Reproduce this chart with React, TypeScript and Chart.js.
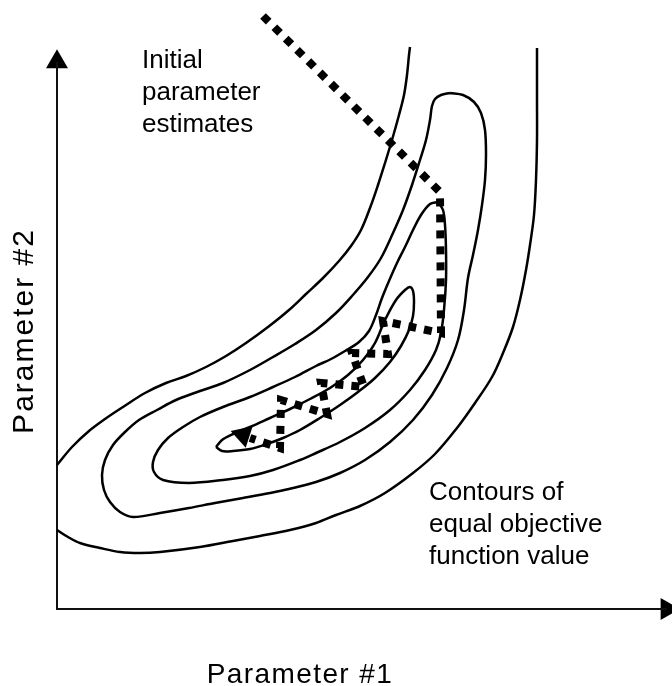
import { useEffect, useRef } from 'react';
import { Chart, registerables } from 'chart.js';

Chart.register(...registerables);

type Pair = [number, number];

// Parameter space: origin at the axes' crossing.
const xRange: Pair = [-5.7, 61.5];
const yRange: Pair = [-7.7, 60.9];

// Outermost contour (open band, two visible branches)
const outerUpper: Pair[] = [
  [35.3, 56.2], [35.2, 55.4], [35.0, 53.4], [34.7, 51.4], [34.2, 49.4], [33.5, 46.9],
  [32.8, 44.6], [32.1, 42.4], [31.3, 40.1], [30.4, 37.9], [29.4, 36.3], [28.2, 34.8],
  [26.6, 33.1], [24.9, 31.5], [23.2, 29.9], [21.1, 28.2], [18.9, 26.6], [16.9, 25.3],
  [14.9, 24.2], [12.9, 23.3], [10.9, 22.6], [8.8, 21.6], [6.6, 20.2], [4.8, 19.0],
  [3.2, 17.8], [1.5, 16.2], [0, 14.4],
];
const outerLower: Pair[] = [
  [0, 7.9], [1.1, 7.2], [2.3, 6.6], [4.3, 6.1], [6.3, 5.7], [8.3, 5.6], [10.3, 5.7],
  [14.3, 6.2], [17.6, 6.8], [20.3, 7.3], [23.3, 7.9], [25.9, 8.6], [27.9, 9.4],
  [30.3, 10.3], [32.8, 11.6], [35.6, 13.6], [37.8, 15.5], [40.0, 18.1], [41.8, 20.6],
  [43.5, 23.2], [44.6, 25.6], [45.6, 28.2], [46.3, 30.9], [46.9, 33.9], [47.3, 36.4],
  [47.7, 39.4], [47.9, 42.9], [48.0, 46.9], [48.0, 50.9], [48.0, 56.1],
];
// Second contour (closed)
const contour2: Pair[] = [
  [39.3, 51.6], [38.4, 51.4], [37.8, 51.0], [37.5, 50.3], [37.3, 48.9], [36.9, 46.9],
  [36.3, 44.9], [35.5, 42.4], [34.6, 39.9], [33.6, 37.6], [32.4, 35.1], [31.1, 33.2],
  [29.5, 31.3], [27.9, 29.6], [25.9, 27.9], [23.8, 26.5], [21.6, 25.2], [19.3, 23.9],
  [16.6, 22.6], [14.3, 21.8], [11.9, 20.9], [10.0, 19.9], [8.2, 18.9], [6.8, 17.7],
  [5.6, 16.4], [4.8, 14.9], [4.5, 13.4], [4.7, 11.9], [5.3, 10.7], [6.3, 9.7],
  [7.6, 9.2], [10.3, 9.6], [13.2, 10.1], [15.8, 10.6], [18.6, 11.1], [21.3, 11.6],
  [23.2, 12.0], [25.9, 12.7], [28.3, 13.6], [30.8, 14.9], [33.3, 16.7], [35.6, 18.9],
  [37.5, 21.4], [39.0, 24.1], [40.1, 26.9], [40.7, 29.9], [41.1, 33.1], [41.6, 35.4],
  [42.1, 37.9], [42.5, 40.4], [42.8, 42.9], [42.9, 45.4], [42.8, 47.9], [42.4, 49.6],
  [41.7, 50.7], [40.6, 51.4], [39.3, 51.6],
];
// Third contour (closed)
const contour3: Pair[] = [
  [38.1, 40.7], [37.3, 40.5], [36.4, 39.4], [35.6, 37.9], [34.8, 36.2], [34.0, 34.6],
  [33.2, 32.8], [32.5, 31.1], [31.9, 29.4], [31.2, 27.8], [30.2, 26.7], [28.8, 25.8],
  [27.4, 25.0], [25.9, 24.3], [23.8, 23.2], [21.6, 22.2], [19.3, 21.2], [16.6, 20.2],
  [14.3, 19.2], [12.6, 18.2], [11.1, 17.1], [10.1, 15.9], [9.6, 14.7], [9.7, 13.7],
  [10.6, 12.9], [13.2, 12.6], [16.6, 12.9], [19.3, 13.3], [21.6, 13.9], [24.3, 14.9],
  [25.9, 15.6], [28.3, 16.7], [30.8, 18.1], [33.3, 19.9], [35.3, 21.9], [36.8, 23.9],
  [37.9, 25.9], [38.4, 27.6], [38.7, 29.9], [38.9, 32.9], [38.9, 35.9], [38.8, 38.4],
  [38.6, 39.9], [38.1, 40.7],
];
// Innermost contour (closed)
const contour4: Pair[] = [
  [15.9, 16.2], [16.5, 16.9], [17.6, 17.5], [19.3, 18.2], [21.3, 19.1], [23.3, 20.0],
  [25.3, 21.0], [27.3, 22.1], [29.1, 23.4], [30.6, 24.9], [31.8, 26.6], [32.8, 28.9],
  [33.9, 30.9], [34.8, 31.9], [35.3, 32.2], [35.6, 31.8], [35.7, 30.7], [35.6, 29.3],
  [35.2, 27.9], [34.4, 26.3], [33.3, 24.7], [31.8, 23.1], [30.1, 21.7], [28.3, 20.4],
  [26.3, 19.1], [24.3, 17.9], [22.6, 17.1], [21.0, 16.5], [19.3, 16.0], [17.6, 15.8],
  [16.5, 15.8], [15.9, 16.2],
];
// Search path of parameter estimates
const searchPath: Pair[] = [
  [20.6, 59.3], [38.3, 41.7], [38.4, 27.6], [32.6, 28.8], [33.1, 25.5], [29.5, 25.6],
  [30.7, 22.2], [26.4, 22.6], [27.0, 19.5], [22.4, 20.9], [22.3, 16.1], [19.3, 17.1],
];
const pathEnd: Pair[] = [[18.6, 17.4]];

// Axes
const axisLine: Pair[] = [[0, 54.7], [0, 0], [61.0, 0]];
const yArrow: Pair[] = [[0, 54.7]];
const xArrow: Pair[] = [[61.0, 0]];

// Labels
const initialLabel = ['Initial', 'parameter', 'estimates'];
const contourLabel = ['Contours of', 'equal objective', 'function value'];
const xTitle = ['Parameter #1'];
const yTitle = ['Parameter #2'];

const pts = (a: Pair[]) => a.map(([x, y]) => ({ x, y }));

const notesPlugin = {
  id: 'notes',
  afterDatasetsDraw(chart: any, _args: any, opts: any) {
    const { ctx } = chart;
    const xs = chart.scales.x;
    const ys = chart.scales.y;
    for (const n of opts.items || []) {
      ctx.save();
      ctx.font = `${n.size}px "Liberation Sans", Arial, sans-serif`;
      ctx.fillStyle = '#000';
      ctx.textAlign = n.align;
      ctx.textBaseline = 'alphabetic';
      if ('letterSpacing' in ctx) (ctx as any).letterSpacing = `${n.spacing || 0}px`;
      ctx.translate(xs.getPixelForValue(n.x), ys.getPixelForValue(n.y));
      if (n.rotate) ctx.rotate(n.rotate);
      n.lines.forEach((t: string, i: number) => ctx.fillText(t, 0, i * n.lineHeight));
      ctx.restore();
    }
  },
};

export default function App() {
  const ref = useRef<HTMLCanvasElement>(null);
  useEffect(() => {
    document.body.style.margin = '0';
    document.body.style.overflow = 'hidden';
    const contourStyle = {
      showLine: true,
      borderColor: '#000',
      borderWidth: 2.5,
      pointRadius: 0,
      tension: 0.35,
      fill: false,
    };
    const chart = new Chart(ref.current as HTMLCanvasElement, {
      type: 'scatter',
      data: {
        datasets: [
          { ...contourStyle, data: pts(outerUpper) },
          { ...contourStyle, data: pts(outerLower) },
          { ...contourStyle, data: pts(contour2) },
          { ...contourStyle, data: pts(contour3) },
          { ...contourStyle, data: pts(contour4) },
          {
            showLine: true, data: pts(axisLine), borderColor: '#111', borderWidth: 2,
            pointRadius: 0, tension: 0, borderJoinStyle: 'miter',
          },
          {
            data: pts(yArrow), pointStyle: 'triangle', pointRadius: 12.7, pointRotation: 0,
            backgroundColor: '#000', borderColor: '#000', borderWidth: 0, showLine: false,
          },
          {
            data: pts(xArrow), pointStyle: 'triangle', pointRadius: 12.7, pointRotation: 90,
            backgroundColor: '#000', borderColor: '#000', borderWidth: 0, showLine: false,
          },
          {
            showLine: true, data: pts(searchPath), borderColor: '#000', borderWidth: 8,
            borderDash: [8, 8], borderCapStyle: 'butt', borderJoinStyle: 'miter',
            pointRadius: 0, tension: 0,
          },
          {
            data: pts(pathEnd), pointStyle: 'triangle', pointRadius: 13, pointRotation: -72,
            backgroundColor: '#000', borderColor: '#000', borderWidth: 0, showLine: false,
          },
        ] as any,
      },
      options: {
        responsive: false,
        animation: false,
        devicePixelRatio: 1,
        layout: { padding: 0, autoPadding: false },
        events: [],
        scales: {
          x: { type: 'linear', display: false, min: xRange[0], max: xRange[1] },
          y: { type: 'linear', display: false, min: yRange[0], max: yRange[1] },
        },
        plugins: {
          legend: { display: false },
          tooltip: { enabled: false },
          notes: {
            items: [
              { lines: initialLabel, x: 8.5, y: 54.1, size: 26, lineHeight: 32, align: 'left' },
              { lines: contourLabel, x: 37.2, y: 10.9, size: 26, lineHeight: 32, align: 'left' },
              { lines: xTitle, x: 24.3, y: -7.4, size: 28, lineHeight: 32, align: 'center', spacing: 1.4 },
              { lines: yTitle, x: -2.4, y: 27.8, size: 30, lineHeight: 32, align: 'center', spacing: 2, rotate: -Math.PI / 2 },
            ],
          },
        } as any,
      },
      plugins: [notesPlugin],
    });
    return () => chart.destroy();
  }, []);
  return (
    <div style={{ width: 672, height: 686 }}>
      <canvas ref={ref} width={672} height={686} style={{ display: 'block' }} />
    </div>
  );
}
